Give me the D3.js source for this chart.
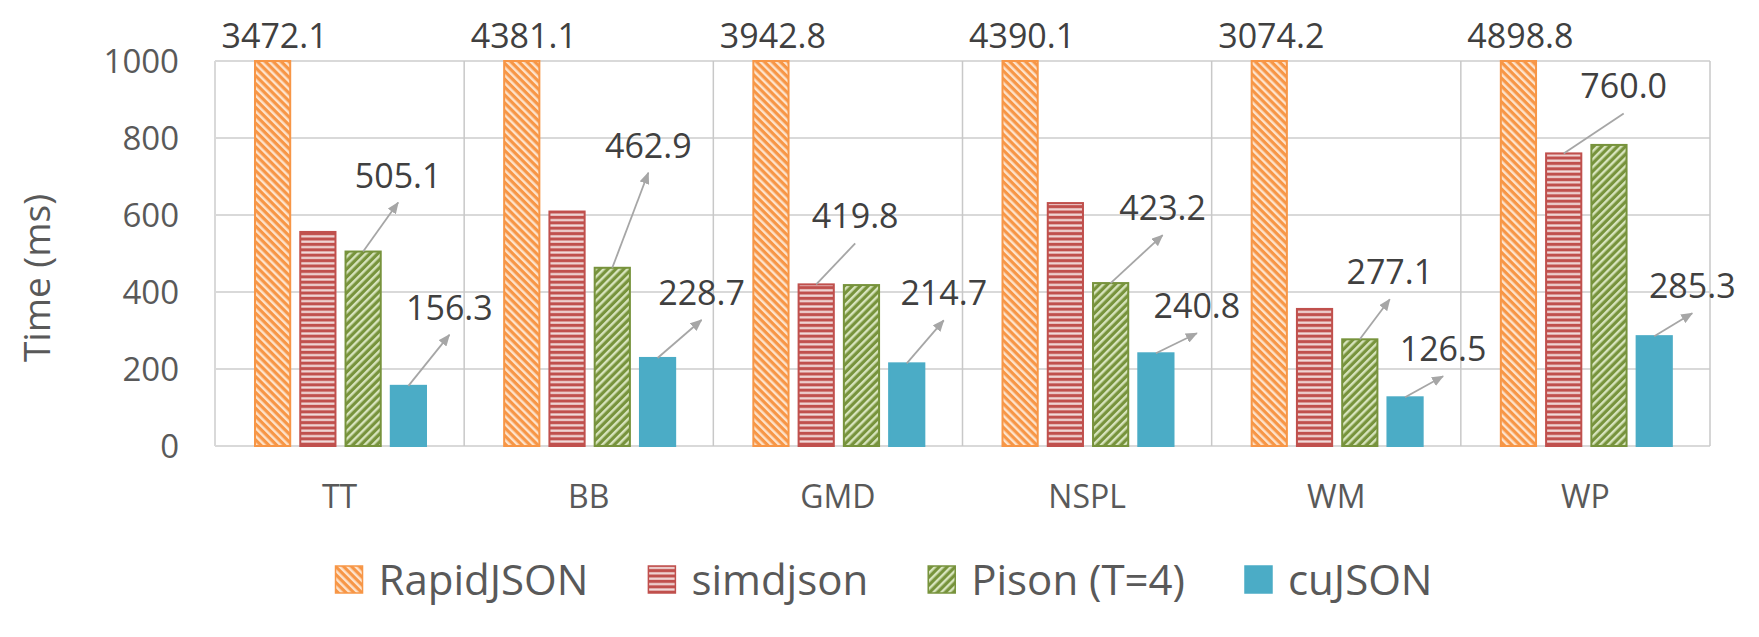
<!DOCTYPE html>
<html>
<head>
<meta charset="utf-8">
<script src="https://cdn.jsdelivr.net/npm/d3@7"></script>
<style>
  body { margin: 0; background: #fff; }
  text { font-family: "Open Sans", sans-serif; }
</style>
</head>
<body>
<div id="chart"></div>
<script>
// ---- data ----
const categories = ["TT", "BB", "GMD", "NSPL", "WM", "WP"];
const seriesNames = ["RapidJSON", "simdjson", "Pison (T=4)", "cuJSON"];
const rapidjson = [3472.1, 4381.1, 3942.8, 4390.1, 3074.2, 4898.8];
const simdjson = [556, 609, 419.8, 631, 356, 760.0];
const pison = [505.1, 462.9, 418, 423.2, 277.1, 782];
const cujson = [156.3, 228.7, 214.7, 240.8, 126.5, 285.3];
const yTicks = [0, 200, 400, 600, 800, 1000];
const yMax = 1000;

// which bars get a callout label (series index, category index)
const calloutBars = [
  [2, 0], [3, 0], [2, 1], [3, 1], [1, 2], [3, 2],
  [2, 3], [3, 3], [2, 4], [3, 4], [1, 5], [3, 5]
];
// leader line ends, px from the top centre of the bar (layout, not data)
const calloutOffsets = [
  [35, -49], [41, -51], [36, -95], [44, -38], [39, -41], [37, -43],
  [52, -48], [41, -20], [30, -40], [38, -21], [60, -40], [38, -23]
];
const calloutArrow = [true, true, true, true, false, true, true, true, true, true, false, true];

const values = [rapidjson, simdjson, pison, cujson];

const W = 1759, H = 637;
const plot = { left: 215, right: 1710, top: 61, bottom: 446 };

const svg = d3.select("#chart").append("svg")
  .attr("width", W)
  .attr("height", H);

const defs = svg.append("defs");

// hatch patterns, Excel style
function diagPattern(id, base, stripe, angle) {
  const p = defs.append("pattern")
    .attr("id", id)
    .attr("patternUnits", "userSpaceOnUse")
    .attr("width", 5.6)
    .attr("height", 5.6)
    .attr("patternTransform", `rotate(${angle})`);
  p.append("rect").attr("width", 5.6).attr("height", 5.6).attr("fill", base);
  p.append("rect").attr("width", 2.4).attr("height", 5.6).attr("fill", stripe);
}
diagPattern("pat-rapid", "#F79646", "#FDE3CC", -45);
diagPattern("pat-pison", "#77933C", "#D7E4BD", 45);

const hp = defs.append("pattern")
  .attr("id", "pat-simd")
  .attr("patternUnits", "userSpaceOnUse")
  .attr("width", 6)
  .attr("height", 5.4);
hp.append("rect").attr("width", 6).attr("height", 5.4).attr("fill", "#C0504D");
hp.append("rect").attr("y", 3).attr("width", 6).attr("height", 2.2).attr("fill", "#F2DCDB");

defs.append("marker")
  .attr("id", "arrow")
  .attr("markerUnits", "userSpaceOnUse")
  .attr("viewBox", "0 0 12 10")
  .attr("refX", 11)
  .attr("refY", 5)
  .attr("markerWidth", 12)
  .attr("markerHeight", 10)
  .attr("orient", "auto")
  .append("path")
  .attr("d", "M0,0 L12,5 L0,10 Z")
  .attr("fill", "#A6A6A6");

const fills = ["url(#pat-rapid)", "url(#pat-simd)", "url(#pat-pison)", "#4BACC6"];
const strokes = ["#F79646", "#C0504D", "#77933C", "#4BACC6"];

// scales
const x0 = d3.scaleBand()
  .domain(categories)
  .range([plot.left, plot.right])
  .padding(0);

const x1 = d3.scaleBand()
  .domain(seriesNames)
  .range([39, 212])
  .paddingInner(0.178)
  .paddingOuter(0);

const y = d3.scaleLinear()
  .domain([0, yMax])
  .range([plot.bottom, plot.top])
  .clamp(true);

// gridlines
svg.append("g")
  .selectAll("line")
  .data(yTicks)
  .enter()
  .append("line")
  .attr("x1", plot.left)
  .attr("x2", plot.right)
  .attr("y1", d => y(d))
  .attr("y2", d => y(d))
  .attr("stroke", "#D9D9D9")
  .attr("stroke-width", 2);

// category separators
const bounds = categories.map(c => x0(c)).concat([plot.right]);
svg.append("g")
  .selectAll("line")
  .data(bounds)
  .enter()
  .append("line")
  .attr("x1", d => d)
  .attr("x2", d => d)
  .attr("y1", plot.top)
  .attr("y2", plot.bottom)
  .attr("stroke", (d, i) => i === 0 ? "#D9D9D9" : "#C8C8C8")
  .attr("stroke-width", (d, i) => i === 0 ? 2 : 1.5);

// y axis labels
const yAxis = d3.axisLeft(y)
  .tickValues(yTicks)
  .tickFormat(d3.format("d"))
  .tickSize(0)
  .tickPadding(36);
const yg = svg.append("g")
  .attr("transform", `translate(${plot.left},0)`)
  .call(yAxis);
yg.select(".domain").remove();
yg.selectAll("text")
  .attr("font-family", "Open Sans")
  .attr("font-size", 33)
  .attr("fill", "#595959")
  .attr("dy", "0.36em");

svg.append("text")
  .attr("transform", "translate(50,278) rotate(-90)")
  .attr("text-anchor", "middle")
  .attr("font-size", 37)
  .attr("fill", "#595959")
  .text("Time (ms)");

// x axis labels
const xAxis = d3.axisBottom(x0).tickSize(0).tickPadding(0);
const xg = svg.append("g")
  .attr("transform", `translate(0,${plot.bottom})`)
  .call(xAxis);
xg.select(".domain").remove();
xg.selectAll("text")
  .attr("font-family", "Open Sans")
  .attr("font-size", 32)
  .attr("fill", "#595959")
  .attr("y", 62)
  .attr("dy", 0);

// bars
const barX = (si, ci) => x0(categories[ci]) + x1(seriesNames[si]);
const barCx = (si, ci) => barX(si, ci) + x1.bandwidth() / 2;

seriesNames.forEach((name, si) => {
  svg.append("g")
    .selectAll("rect")
    .data(values[si])
    .enter()
    .append("rect")
    .attr("x", (d, ci) => barX(si, ci) + 1)
    .attr("width", x1.bandwidth() - 2)
    .attr("y", d => y(d))
    .attr("height", d => y(0) - y(d))
    .attr("fill", fills[si])
    .attr("stroke", strokes[si])
    .attr("stroke-width", 2);
});

// RapidJSON values printed above the clipped bars
svg.append("g")
  .selectAll("text")
  .data(rapidjson)
  .enter()
  .append("text")
  .attr("x", (d, ci) => barCx(0, ci) + 2)
  .attr("y", 48)
  .attr("text-anchor", "middle")
  .attr("font-size", 34)
  .attr("fill", "#404040")
  .text(d => d3.format(".1f")(d));

// callouts with leader lines
const fmt = d3.format(".1f");
calloutBars.forEach(([si, ci], k) => {
  const v = values[si][ci];
  const sx = barCx(si, ci), sy = y(v);
  const ex = sx + calloutOffsets[k][0], ey = sy + calloutOffsets[k][1];
  const line = svg.append("line")
    .attr("x1", sx).attr("y1", sy)
    .attr("x2", ex).attr("y2", ey)
    .attr("stroke", "#A6A6A6")
    .attr("stroke-width", 1.8);
  if (calloutArrow[k]) line.attr("marker-end", "url(#arrow)");
  svg.append("text")
    .attr("x", ex)
    .attr("y", ey - 15)
    .attr("text-anchor", "middle")
    .attr("font-size", 34)
    .attr("fill", "#404040")
    .text(fmt(v));
});

// legend, laid out in a row and centred
const legend = svg.append("g");
const items = legend.selectAll("g")
  .data(seriesNames)
  .enter()
  .append("g");
items.append("rect")
  .attr("width", 27)
  .attr("height", 27)
  .attr("y", -14)
  .attr("fill", (d, i) => fills[i])
  .attr("stroke", (d, i) => strokes[i])
  .attr("stroke-width", 1.5);
items.append("text")
  .attr("x", 43)
  .attr("y", 15)
  .attr("font-size", 42)
  .attr("fill", "#595959")
  .text(d => d);

let cursor = 0;
const gap = 60;
items.each(function () {
  const w = 43 + d3.select(this).select("text").node().getComputedTextLength();
  d3.select(this).attr("transform", `translate(${cursor},0)`);
  cursor += w + gap;
});
const legendWidth = cursor - gap;
legend.attr("transform", `translate(${884 - legendWidth / 2},580)`);
</script>
</body>
</html>
